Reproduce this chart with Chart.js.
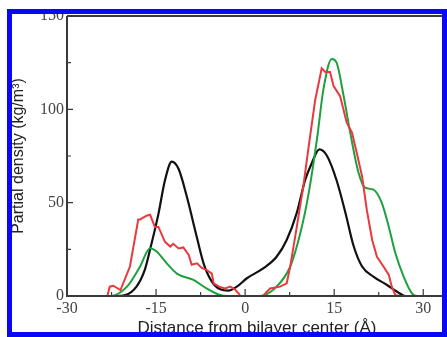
<!DOCTYPE html>
<html>
<head>
<meta charset="utf-8">
<script src="https://cdn.jsdelivr.net/npm/chart.js@4/dist/chart.umd.min.js"></script>
<style>
  body { margin: 0; background: #fff; }
  .wrap { position: relative; width: 447px; height: 337px; overflow: hidden; }
  .frame {
    position: absolute; left: 7px; top: 9px; width: 440px; height: 328px;
    box-sizing: border-box; border: 5px solid rgb(8, 8, 245); pointer-events: none;
  }
</style>
</head>
<body>
<div class="wrap">
  <canvas id="myChart" width="447" height="337"></canvas>
  <div class="frame"></div>
</div>
<script>
// data (x in Å, y in kg/m^3)
const blackX = [-30, -22, -20.2, -18.3, -16.9, -16, -14.6, -13.5, -12.35, -11.2, -9.8, -8.4, -7, -5.6, -4.2, -2.8, -1.4, 0.3, 3.1, 5.3, 7.0, 8.7, 10.1, 11.2, 12.5, 13.8, 15.4, 16.9, 18.3, 19.7, 21.6, 23.9, 25.6, 27, 34];
const blackY = [0, 0, 0.5, 5, 14, 25, 44, 62, 72, 68, 53, 35, 17.5, 7.7, 3.6, 2.9, 5, 9.5, 14.9, 21, 30, 44.5, 62, 71, 78.5, 75, 62, 44.5, 26.5, 15.8, 10.4, 5.9, 2.3, 0, 0];

const redX = [-30, -23.2, -22.8, -22.2, -21, -19.4, -18, -17.7, -16.6, -16, -15.2, -14.6, -13.5, -12.6, -12.1, -11.2, -10.4, -9.5, -9, -8.1, -7.3, -6.5, -5.6, -5.3, -4.4, -3.4, -2.5, -1.7, -1.1, -0.8, 3, 4.2, 5.9, 7, 7.6, 8.7, 9.8, 10.7, 11.8, 12.9, 13.5, 14.3, 14.9, 16, 17.1, 18, 18.8, 19.7, 20.5, 21.4, 22.2, 23.3, 24.2, 24.7, 25.3, 26, 34];
const redY = [0, 0, 5, 5.5, 3.2, 15.8, 41, 41, 43, 43.5, 37, 37, 29, 26.5, 28, 25.5, 26, 22, 16.7, 17.5, 15, 14, 12, 6.8, 5, 4, 5, 3.5, 1.4, 0, 0, 4, 5, 6.8, 15.8, 37, 58.7, 80, 105, 122, 120, 120, 112.5, 107, 93, 87.5, 76.7, 64, 46, 30, 21, 15.8, 11.3, 5, 0.5, 0, 0];

const greenX = [-30, -22.7, -19.9, -17.7, -16, -14.9, -13.2, -11.5, -8.7, -6.5, -4.2, -3, 2.5, 5.3, 7.6, 9.3, 10.7, 12.1, 13.2, 14.6, 15.4, 16.6, 17.7, 19.1, 20.2, 21.6, 23, 24.2, 25.3, 26.7, 28.1, 29, 34];
const greenY = [0, 0, 5, 15.8, 25.6, 23.8, 17.5, 12, 8.6, 4.1, 0.5, 0, 0, 5, 15.8, 33.7, 55, 84, 111, 127, 125, 107, 87.5, 66, 58, 57, 50, 37, 23, 10.4, 1.4, 0, 0];

const xTicks = [-30, -15, 0, 15, 30];
const xMinor = [-22.5, -7.5, 7.5, 22.5];
const yTicks = [0, 50, 100, 150];
const yMinor = [25, 75, 125];

const pts = (xs, ys) => xs.map((x, i) => ({ x: x, y: ys[i] }));

const tickFont = { family: 'Liberation Serif', size: 16 };
const titleFont = { family: 'Liberation Sans', size: 16, lineHeight: 1 };

// frame top line + inward tick marks
const frameAndTicks = {
    id: 'frameAndTicks',
    afterDraw(chart) {
        const { ctx, chartArea: a, scales: { x, y } } = chart;
        ctx.save();
        ctx.strokeStyle = '#3a3a3a';
        ctx.lineWidth = 2;
        ctx.beginPath();
        ctx.moveTo(a.left, a.top);
        ctx.lineTo(a.right, a.top);
        ctx.moveTo(a.left, a.top);
        ctx.lineTo(a.left, a.bottom);
        ctx.lineTo(a.right, a.bottom);
        ctx.stroke();
        ctx.lineWidth = 1.2;
        ctx.beginPath();
        xTicks.forEach(v => { const p = x.getPixelForValue(v); ctx.moveTo(p, a.bottom); ctx.lineTo(p, a.bottom - 7); });
        xMinor.forEach(v => { const p = x.getPixelForValue(v); ctx.moveTo(p, a.bottom); ctx.lineTo(p, a.bottom - 4); });
        yTicks.forEach(v => { const p = y.getPixelForValue(v); ctx.moveTo(a.left, p); ctx.lineTo(a.left + 6, p); });
        yMinor.forEach(v => { const p = y.getPixelForValue(v); ctx.moveTo(a.left, p); ctx.lineTo(a.left + 4, p); });
        ctx.stroke();
        ctx.restore();
    }
};

const ctx = document.getElementById('myChart');

new Chart(ctx, {
    type: 'line',
    data: {
        datasets: [
            { label: 'red', data: pts(redX, redY), borderColor: 'rgb(232, 58, 62)', borderWidth: 2, tension: 0 },
            { label: 'green', data: pts(greenX, greenY), borderColor: 'rgb(30, 160, 60)', borderWidth: 2, tension: 0.4, cubicInterpolationMode: 'monotone' },
            { label: 'black', data: pts(blackX, blackY), borderColor: '#111', borderWidth: 2.2, tension: 0.4, cubicInterpolationMode: 'monotone' }
        ]
    },
    options: {
        responsive: false,
        animation: false,
        pointRadius: 0,
        elements: { point: { radius: 0 } },
        layout: { padding: { top: 16, right: 0, left: 0, bottom: 0 } },
        plugins: { legend: { display: false }, tooltip: { enabled: false } },
        scales: {
            x: {
                type: 'linear',
                min: -30,
                max: 34,
                grid: { display: false, drawTicks: false },
                border: { display: false },
                afterBuildTicks: s => { s.ticks = xTicks.map(v => ({ value: v })); },
                afterFit: s => { s.height = 41; },
                ticks: { font: tickFont, color: '#444', padding: 3, maxRotation: 0 },
                title: { display: true, text: 'Distance from bilayer center (Å)', font: { family: 'Liberation Sans', size: 17, lineHeight: 1 }, color: '#222', padding: 0 }
            },
            y: {
                min: 0,
                max: 150,
                grid: { display: false, drawTicks: false },
                border: { display: false },
                afterBuildTicks: s => { s.ticks = yTicks.map(v => ({ value: v })); },
                afterFit: s => { s.width = 67; },
                ticks: { font: tickFont, color: '#444', padding: 3 },
                title: { display: true, text: 'Partial density (kg/m³)', font: titleFont, color: '#222', padding: { top: 11, bottom: 0 } }
            }
        }
    },
    plugins: [frameAndTicks]
});
</script>
</body>
</html>
